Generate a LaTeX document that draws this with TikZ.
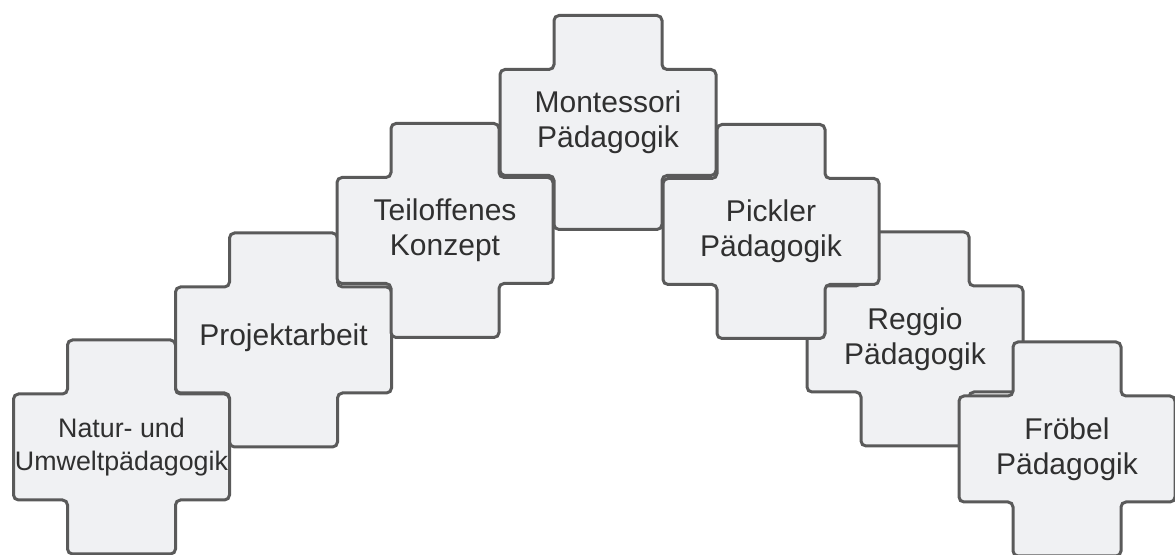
\documentclass[tikz,border=0pt]{standalone}
\usepackage{fontspec}
\setmainfont{Liberation Sans}
\usepackage{tikz}
\usetikzlibrary{positioning}

\definecolor{rand}{HTML}{5A5A5A}
\definecolor{flaeche}{HTML}{F0F1F3}
\definecolor{schrift}{HTML}{303030}

\begin{document}
\begin{tikzpicture}[x=0.5pt,y=-0.5pt,
    kachel/.style={draw=rand,fill=flaeche,line width=1.5pt,rounded corners=2.5pt},
    beschriftung/.style={align=center,text=schrift,font=\fontsize{15}{17.5}\selectfont}]
    \useasboundingbox (0,0) rectangle (1175,555);

    % Kreuze (Reihenfolge = Ueberdeckung)
    \foreach \x/\y in {121.5/447, 283.5/340, 445/230.5, 608/122.5, 915/339, 771/231.5, 1067/449} {
        \draw[kachel] (\x,\y) ++(-54,-107) -- ++(108,0) -- ++(0,54) -- ++(54,0)
            -- ++(0,106) -- ++(-54,0) -- ++(0,54) -- ++(-108,0) -- ++(0,-54)
            -- ++(-54,0) -- ++(0,-106) -- ++(54,0) -- cycle;
    }

    % Beschriftungen
    \node[beschriftung,font=\fontsize{13.4}{16.5}\selectfont] (natur) at (121.5,447) {Natur- und\\Umweltpädagogik};
    \node[beschriftung] (projekt) at (283.5,338) {Projektarbeit};
    \node[beschriftung] (teiloffen) at (445,230.5) {Teiloffenes\\Konzept};
    \node[beschriftung] (montessori) at (608,122.5) {Montessori\\Pädagogik};
    \node[beschriftung] (pickler) at (771,231.5) {Pickler\\Pädagogik};
    \node[beschriftung] (reggio) at (915,339) {Reggio\\Pädagogik};
    \node[beschriftung] (froebel) at (1067,449) {Fröbel\\Pädagogik};
\end{tikzpicture}
\end{document}
